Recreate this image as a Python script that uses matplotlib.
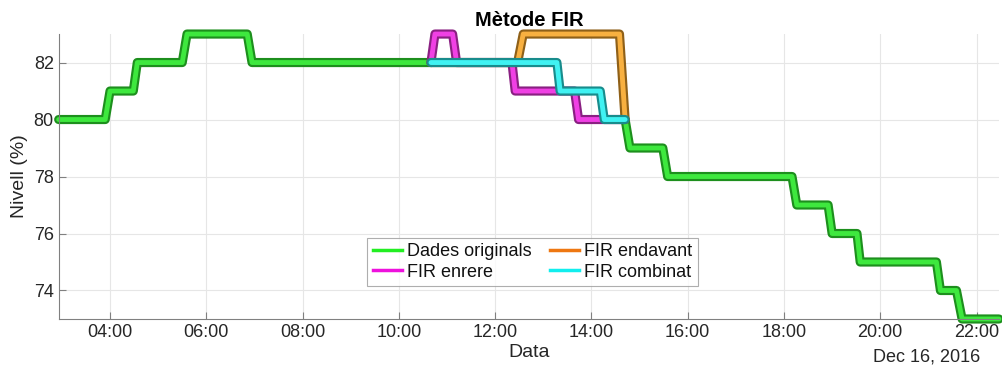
import numpy as np
import pandas as pd
import matplotlib
matplotlib.use("Agg")
import matplotlib.pyplot as plt
import matplotlib.dates as mdates
import matplotlib.patheffects as pe
from matplotlib.lines import Line2D

plt.rcParams['font.family'] = ['Liberation Sans', 'DejaVu Sans']

day = "2016-12-16 "

# dades originals (amb forat entre 10:40 i 14:42)
orig_t = ["02:56", "03:54", "04:00", "04:29", "04:34", "05:30", "05:36", "06:51", "06:57", "10:40",
          "12:40",
          "14:42", "14:48", "15:29", "15:35", "18:10", "18:16", "18:55", "19:00", "19:31", "19:35",
          "21:10", "21:15", "21:35", "21:42", "22:28"]
orig_v = [80, 80, 81, 81, 82, 82, 83, 83, 82, 82,
          np.nan,
          80, 79, 79, 78, 78, 77, 77, 76, 76, 75,
          75, 74, 74, 73, 73]

# FIR enrere
enr_t = ["10:40", "10:45", "11:07", "11:12", "12:21", "12:25", "13:39", "13:44", "14:42"]
enr_v = [82, 83, 83, 82, 82, 81, 81, 80, 80]

# FIR endavant
end_t = ["10:40", "12:28", "12:35", "14:35", "14:42"]
end_v = [82, 82, 83, 83, 80]

# FIR combinat
comb_t = ["10:40", "13:17", "13:21", "14:11", "14:16", "14:42"]
comb_v = [82, 82, 81, 81, 80, 80]


def to_dt(lst):
    return pd.to_datetime([day + t for t in lst])


series = [
    ("Dades originals", orig_t, orig_v, "#3ee83e", "#1d8f1d", "#22ee22"),
    ("FIR enrere", enr_t, enr_v, "#f040e4", "#8a2082", "#ee11dd"),
    ("FIR endavant", end_t, end_v, "#f8b040", "#8f6018", "#ee7711"),
    ("FIR combinat", comb_t, comb_v, "#40f2f2", "#188c8c", "#11eeee"),
]

fig = plt.figure(figsize=(10.03, 3.72), dpi=100)
ax = fig.add_axes([0.0585, 0.1425, 0.9375, 0.766])

handles = []
for name, tt, vv, fill, edge, leg in series:
    ax.plot(to_dt(tt), vv, color=fill, lw=3.5, solid_joinstyle="round", solid_capstyle="round",
            clip_on=False,
            path_effects=[pe.Stroke(linewidth=6.6, foreground=edge), pe.Normal()])
    handles.append(Line2D([0], [0], color=leg, lw=2.5))

ax.set_xlim(pd.Timestamp(day + "02:56"), pd.Timestamp(day + "22:28"))
ax.set_ylim(73, 83)
ax.set_yticks([74, 76, 78, 80, 82])
ax.xaxis.set_major_locator(mdates.HourLocator(byhour=range(0, 24, 2)))
ax.xaxis.set_major_formatter(mdates.DateFormatter("%H:%M"))

ax.grid(True, color="#e6e6e6", lw=0.8)
ax.set_axisbelow(True)
for s in ["top", "right"]:
    ax.spines[s].set_visible(False)
for s in ["left", "bottom"]:
    ax.spines[s].set_color("#808080")
ax.tick_params(direction="in", length=5, colors="#808080", labelcolor="#262626", labelsize=13)

ax.set_title("Mètode FIR", fontsize=14.5, fontweight="bold", color="black", pad=6)
ax.set_xlabel("Data", fontsize=14, color="#262626", labelpad=2)
ax.set_ylabel("Nivell (%)", fontsize=14, color="#262626", labelpad=4)
fig.text(980 / 1003, 1 - 357 / 372, "Dec 16, 2016", ha="right", va="center", fontsize=13, color="#262626")

leg = ax.legend(handles, [s[0] for s in series], ncol=2, loc="center", bbox_to_anchor=(0.504, 0.2),
                fontsize=13, frameon=True, fancybox=False, edgecolor="#9a9a9a", handlelength=1.6,
                handletextpad=0.3, columnspacing=1.0, borderpad=0.3, labelspacing=0.2)
leg.get_frame().set_linewidth(0.8)
for t in leg.get_texts():
    t.set_color("#111111")

fig.savefig("out.png", dpi=100)
